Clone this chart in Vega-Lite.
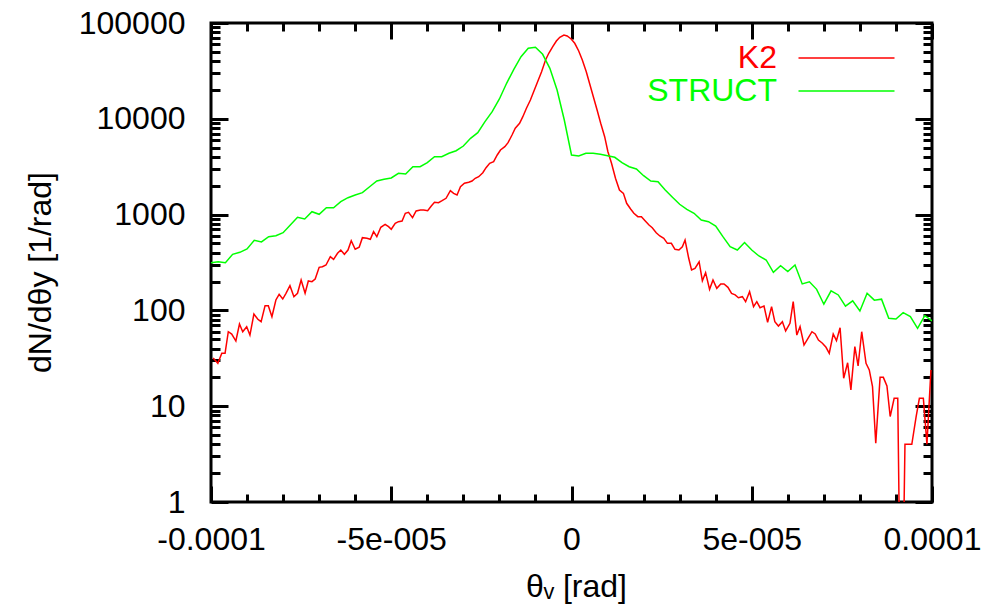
{
  "$schema": "https://vega.github.io/schema/vega-lite/v6.json",
  "width": 721,
  "height": 479,
  "autosize": {"type": "none"},
  "padding": {"left": 211, "top": 23, "right": 74, "bottom": 103},
  "background": "white",
  "view": {"stroke": "#000000", "strokeWidth": 3},
  "config": {
    "view": {"stroke": "#000000", "strokeWidth": 3},
    "font": "Liberation Sans",
    "axis": {"grid": false, "domain": false, "labelColor": "#000000", "tickColor": "#000000", "tickWidth": 3, "tickOpacity": 1, "tickRound": true, "titleColor": "#000000", "titleFontWeight": "normal", "labelFont": "Liberation Sans", "titleFont": "Liberation Sans", "labelFontSize": 32, "titleFontSize": 32, "labelOverlap": false, "labelFlush": false}
  },
  "data": {"values": [
    {"s":"K2","x":-99.4e-6,"y":31.9},{"s":"K2","x":-98.1e-6,"y":28.0},{"s":"K2","x":-97.0e-6,"y":35.7},{"s":"K2","x":-96.1e-6,"y":35.7},
    {"s":"K2","x":-95.2e-6,"y":59.9},{"s":"K2","x":-94.25e-6,"y":56.7},{"s":"K2","x":-93.1e-6,"y":47.9},{"s":"K2","x":-92.1e-6,"y":72.1},
    {"s":"K2","x":-91.2e-6,"y":59.9},{"s":"K2","x":-90.1e-6,"y":67.6},{"s":"K2","x":-89.2e-6,"y":55.3},{"s":"K2","x":-88.1e-6,"y":91.7},
    {"s":"K2","x":-87.0e-6,"y":80.7},{"s":"K2","x":-86.1e-6,"y":76.2},{"s":"K2","x":-85.0e-6,"y":112},{"s":"K2","x":-84.1e-6,"y":112},
    {"s":"K2","x":-83.1e-6,"y":85.9},{"s":"K2","x":-82.0e-6,"y":128.5},{"s":"K2","x":-81.1e-6,"y":147},{"s":"K2","x":-80.1e-6,"y":131.5},
    {"s":"K2","x":-79.2e-6,"y":150.8},{"s":"K2","x":-78.1e-6,"y":181},{"s":"K2","x":-77.0e-6,"y":139},{"s":"K2","x":-76.0e-6,"y":150.8},
    {"s":"K2","x":-75.0e-6,"y":207.6},{"s":"K2","x":-73.9e-6,"y":150.8},{"s":"K2","x":-73.0e-6,"y":202.8},{"s":"K2","x":-72.0e-6,"y":199.5},
    {"s":"K2","x":-71.1e-6,"y":212.8},{"s":"K2","x":-70.0e-6,"y":281.8},{"s":"K2","x":-69.1e-6,"y":285.8},{"s":"K2","x":-68.1e-6,"y":297.8},
    {"s":"K2","x":-66.9e-6,"y":363.7},{"s":"K2","x":-66.0e-6,"y":341.5},{"s":"K2","x":-64.9e-6,"y":394.5},{"s":"K2","x":-64.0e-6,"y":426.9},
    {"s":"K2","x":-63.0e-6,"y":385.2},{"s":"K2","x":-62.0e-6,"y":426.9},{"s":"K2","x":-61.1e-6,"y":534.4},{"s":"K2","x":-60.0e-6,"y":434.5},
    {"s":"K2","x":-58.9e-6,"y":455.8},{"s":"K2","x":-58.0e-6,"y":574},{"s":"K2","x":-56.75e-6,"y":566},{"s":"K2","x":-55.8e-6,"y":552},
    {"s":"K2","x":-54.9e-6,"y":663},{"s":"K2","x":-54.0e-6,"y":588},{"s":"K2","x":-52.9e-6,"y":737},{"s":"K2","x":-51.7e-6,"y":792},
    {"s":"K2","x":-50.75e-6,"y":748},{"s":"K2","x":-50.0e-6,"y":703},{"s":"K2","x":-48.9e-6,"y":811},{"s":"K2","x":-48.0e-6,"y":844},
    {"s":"K2","x":-47.0e-6,"y":858},{"s":"K2","x":-46.1e-6,"y":1032},{"s":"K2","x":-45.2e-6,"y":1057},{"s":"K2","x":-44.1e-6,"y":929},
    {"s":"K2","x":-43.1e-6,"y":1091},{"s":"K2","x":-41.9e-6,"y":1117},{"s":"K2","x":-41.0e-6,"y":1117},{"s":"K2","x":-39.9e-6,"y":1099},
    {"s":"K2","x":-38.9e-6,"y":1230},{"s":"K2","x":-38.0e-6,"y":1343},{"s":"K2","x":-36.9e-6,"y":1331},{"s":"K2","x":-35.9e-6,"y":1397},
    {"s":"K2","x":-34.8e-6,"y":1479},{"s":"K2","x":-33.6e-6,"y":1778},{"s":"K2","x":-32.7e-6,"y":1668},{"s":"K2","x":-31.75e-6,"y":1603},
    {"s":"K2","x":-30.8e-6,"y":1955},{"s":"K2","x":-29.7e-6,"y":2123},{"s":"K2","x":-28.5e-6,"y":2173},{"s":"K2","x":-27.6e-6,"y":2243},
    {"s":"K2","x":-26.7e-6,"y":2393},{"s":"K2","x":-25.75e-6,"y":2488},{"s":"K2","x":-24.6e-6,"y":2737},{"s":"K2","x":-23.7e-6,"y":3088},
    {"s":"K2","x":-22.7e-6,"y":3430},{"s":"K2","x":-21.6e-6,"y":3566},{"s":"K2","x":-20.6e-6,"y":4190},{"s":"K2","x":-19.7e-6,"y":4724},
    {"s":"K2","x":-18.5e-6,"y":5114},{"s":"K2","x":-17.6e-6,"y":5632},{"s":"K2","x":-16.5e-6,"y":6774},{"s":"K2","x":-15.6e-6,"y":7961},
    {"s":"K2","x":-14.4e-6,"y":8977},{"s":"K2","x":-13.5e-6,"y":10520},{"s":"K2","x":-12.5e-6,"y":12880},{"s":"K2","x":-11.4e-6,"y":15710},
    {"s":"K2","x":-10.5e-6,"y":19180},{"s":"K2","x":-9.4e-6,"y":24390},{"s":"K2","x":-8.3e-6,"y":31040},{"s":"K2","x":-7.2e-6,"y":41110},
    {"s":"K2","x":-6.3e-6,"y":48300},{"s":"K2","x":-5.2e-6,"y":56590},{"s":"K2","x":-4.2e-6,"y":64890},{"s":"K2","x":-3.25e-6,"y":70960},
    {"s":"K2","x":-2.1e-6,"y":74990},{"s":"K2","x":-1.2e-6,"y":73140},{"s":"K2","x":-0.1e-6,"y":68060},{"s":"K2","x":0.9e-6,"y":61410},
    {"s":"K2","x":2.0e-6,"y":51030},{"s":"K2","x":3.0e-6,"y":41110},{"s":"K2","x":4.1e-6,"y":31040},{"s":"K2","x":5.0e-6,"y":23480},
    {"s":"K2","x":6.0e-6,"y":17300},{"s":"K2","x":7.1e-6,"y":12360},{"s":"K2","x":8.1e-6,"y":8977},{"s":"K2","x":9.2e-6,"y":6503},
    {"s":"K2","x":10.1e-6,"y":4536},{"s":"K2","x":11.1e-6,"y":3430},{"s":"K2","x":12.2e-6,"y":2393},{"s":"K2","x":13.3e-6,"y":1806},
    {"s":"K2","x":14.4e-6,"y":1668},{"s":"K2","x":15.3e-6,"y":1312},{"s":"K2","x":16.4e-6,"y":1144},{"s":"K2","x":17.3e-6,"y":1032},
    {"s":"K2","x":18.4e-6,"y":951},{"s":"K2","x":19.4e-6,"y":951},{"s":"K2","x":20.4e-6,"y":864},{"s":"K2","x":21.5e-6,"y":779},
    {"s":"K2","x":22.4e-6,"y":730},{"s":"K2","x":23.5e-6,"y":647},{"s":"K2","x":24.5e-6,"y":598},{"s":"K2","x":25.6e-6,"y":566},
    {"s":"K2","x":26.6e-6,"y":501},{"s":"K2","x":27.7e-6,"y":501},{"s":"K2","x":28.7e-6,"y":434.5},{"s":"K2","x":29.8e-6,"y":426.9},
    {"s":"K2","x":30.75e-6,"y":462},{"s":"K2","x":31.5e-6,"y":543},{"s":"K2","x":32.5e-6,"y":352},{"s":"K2","x":33.3e-6,"y":264},
    {"s":"K2","x":34.25e-6,"y":275},{"s":"K2","x":35.4e-6,"y":322},{"s":"K2","x":36.3e-6,"y":204},{"s":"K2","x":37.2e-6,"y":248},
    {"s":"K2","x":38.3e-6,"y":166},{"s":"K2","x":39.25e-6,"y":207.6},{"s":"K2","x":40.3e-6,"y":170},{"s":"K2","x":41.4e-6,"y":189},
    {"s":"K2","x":42.3e-6,"y":189},{"s":"K2","x":43.4e-6,"y":174},{"s":"K2","x":44.4e-6,"y":150.8},{"s":"K2","x":45.4e-6,"y":145},
    {"s":"K2","x":46.3e-6,"y":135.7},{"s":"K2","x":47.4e-6,"y":139},{"s":"K2","x":48.3e-6,"y":123.3},{"s":"K2","x":49.4e-6,"y":156.7},
    {"s":"K2","x":50.5e-6,"y":109.3},{"s":"K2","x":51.4e-6,"y":123.3},{"s":"K2","x":52.3e-6,"y":106.7},{"s":"K2","x":53.4e-6,"y":111.2},
    {"s":"K2","x":54.4e-6,"y":75.1},{"s":"K2","x":55.5e-6,"y":109.3},{"s":"K2","x":56.4e-6,"y":76.2},{"s":"K2","x":57.4e-6,"y":68.7},
    {"s":"K2","x":58.5e-6,"y":76.2},{"s":"K2","x":59.4e-6,"y":61},{"s":"K2","x":60.6e-6,"y":73.3},{"s":"K2","x":61.5e-6,"y":123.3},
    {"s":"K2","x":62.5e-6,"y":55.3},{"s":"K2","x":63.4e-6,"y":67.6},{"s":"K2","x":64.5e-6,"y":43.5},{"s":"K2","x":65.6e-6,"y":51.1},
    {"s":"K2","x":66.7e-6,"y":59.9},{"s":"K2","x":67.6e-6,"y":56.7},{"s":"K2","x":68.5e-6,"y":49.1},{"s":"K2","x":69.6e-6,"y":45.4},
    {"s":"K2","x":70.6e-6,"y":41.2},{"s":"K2","x":71.5e-6,"y":35.7},{"s":"K2","x":72.6e-6,"y":56.7},{"s":"K2","x":73.5e-6,"y":48.3},
    {"s":"K2","x":74.5e-6,"y":66},{"s":"K2","x":75.5e-6,"y":19.6},{"s":"K2","x":76.6e-6,"y":28.4},{"s":"K2","x":77.5e-6,"y":14.8},
    {"s":"K2","x":78.6e-6,"y":41.8},{"s":"K2","x":79.5e-6,"y":26.3},{"s":"K2","x":80.5e-6,"y":59.9},{"s":"K2","x":81.7e-6,"y":28},
    {"s":"K2","x":82.6e-6,"y":23.9},{"s":"K2","x":83.5e-6,"y":16},{"s":"K2","x":84.4e-6,"y":4.1},{"s":"K2","x":85.6e-6,"y":20},
    {"s":"K2","x":86.5e-6,"y":20},{"s":"K2","x":87.5e-6,"y":16.3},{"s":"K2","x":88.4e-6,"y":7.8},{"s":"K2","x":89.5e-6,"y":12.1},
    {"s":"K2","x":90.5e-6,"y":12.1},{"s":"K2","x":91.5e-6,"y":0.01},{"s":"K2","x":92.5e-6,"y":4},{"s":"K2","x":93.5e-6,"y":4},
    {"s":"K2","x":94.4e-6,"y":4},{"s":"K2","x":95.6e-6,"y":7.8},{"s":"K2","x":96.5e-6,"y":12.1},{"s":"K2","x":97.6e-6,"y":12.1},
    {"s":"K2","x":98.6e-6,"y":4},{"s":"K2","x":99.7e-6,"y":23.9},
    {"s":"STRUCT","x":-100e-6,"y":315},{"s":"STRUCT","x":-98e-6,"y":322},{"s":"STRUCT","x":-96e-6,"y":315},{"s":"STRUCT","x":-94e-6,"y":385},
    {"s":"STRUCT","x":-92e-6,"y":404},{"s":"STRUCT","x":-90e-6,"y":438},{"s":"STRUCT","x":-88e-6,"y":539},{"s":"STRUCT","x":-86e-6,"y":518},
    {"s":"STRUCT","x":-84e-6,"y":588},{"s":"STRUCT","x":-82e-6,"y":602},{"s":"STRUCT","x":-80e-6,"y":647},{"s":"STRUCT","x":-78e-6,"y":779},
    {"s":"STRUCT","x":-76e-6,"y":937},{"s":"STRUCT","x":-74e-6,"y":900},{"s":"STRUCT","x":-72e-6,"y":1072},{"s":"STRUCT","x":-70e-6,"y":1007},
    {"s":"STRUCT","x":-68e-6,"y":1180},{"s":"STRUCT","x":-66e-6,"y":1180},{"s":"STRUCT","x":-64e-6,"y":1364},{"s":"STRUCT","x":-62e-6,"y":1501},
    {"s":"STRUCT","x":-60e-6,"y":1603},{"s":"STRUCT","x":-58e-6,"y":1693},{"s":"STRUCT","x":-56e-6,"y":1955},{"s":"STRUCT","x":-54e-6,"y":2243},
    {"s":"STRUCT","x":-52e-6,"y":2335},{"s":"STRUCT","x":-50e-6,"y":2410},{"s":"STRUCT","x":-48e-6,"y":2698},{"s":"STRUCT","x":-46e-6,"y":2654},
    {"s":"STRUCT","x":-44e-6,"y":3162},{"s":"STRUCT","x":-42e-6,"y":3162},{"s":"STRUCT","x":-40e-6,"y":3483},{"s":"STRUCT","x":-38e-6,"y":4020},
    {"s":"STRUCT","x":-36e-6,"y":4020},{"s":"STRUCT","x":-34e-6,"y":4363},{"s":"STRUCT","x":-32e-6,"y":4645},{"s":"STRUCT","x":-30e-6,"y":5200},
    {"s":"STRUCT","x":-28e-6,"y":6255},{"s":"STRUCT","x":-26e-6,"y":7160},{"s":"STRUCT","x":-24e-6,"y":9330},{"s":"STRUCT","x":-22e-6,"y":11860},
    {"s":"STRUCT","x":-20e-6,"y":16100},{"s":"STRUCT","x":-18e-6,"y":23480},{"s":"STRUCT","x":-16e-6,"y":32870},{"s":"STRUCT","x":-14e-6,"y":44470},
    {"s":"STRUCT","x":-12e-6,"y":54430},{"s":"STRUCT","x":-10e-6,"y":55720},{"s":"STRUCT","x":-8e-6,"y":47120},{"s":"STRUCT","x":-6e-6,"y":33650},
    {"s":"STRUCT","x":-4e-6,"y":19990},{"s":"STRUCT","x":-2e-6,"y":9710},{"s":"STRUCT","x":0,"y":4190},{"s":"STRUCT","x":2e-6,"y":4090},
    {"s":"STRUCT","x":4e-6,"y":4363},{"s":"STRUCT","x":6e-6,"y":4363},{"s":"STRUCT","x":8e-6,"y":4259},{"s":"STRUCT","x":10e-6,"y":4120},
    {"s":"STRUCT","x":12e-6,"y":3963},{"s":"STRUCT","x":14e-6,"y":3483},{"s":"STRUCT","x":16e-6,"y":3162},{"s":"STRUCT","x":18e-6,"y":2992},
    {"s":"STRUCT","x":20e-6,"y":2547},{"s":"STRUCT","x":22e-6,"y":2243},{"s":"STRUCT","x":24e-6,"y":2205},{"s":"STRUCT","x":26e-6,"y":1806},
    {"s":"STRUCT","x":28e-6,"y":1517},{"s":"STRUCT","x":30e-6,"y":1282},{"s":"STRUCT","x":32e-6,"y":1136},{"s":"STRUCT","x":34e-6,"y":1032},
    {"s":"STRUCT","x":36e-6,"y":879},{"s":"STRUCT","x":38e-6,"y":844},{"s":"STRUCT","x":40e-6,"y":760},{"s":"STRUCT","x":42e-6,"y":588},
    {"s":"STRUCT","x":44e-6,"y":462},{"s":"STRUCT","x":46e-6,"y":427},{"s":"STRUCT","x":48e-6,"y":511},{"s":"STRUCT","x":50e-6,"y":427},
    {"s":"STRUCT","x":52e-6,"y":370},{"s":"STRUCT","x":54e-6,"y":336},{"s":"STRUCT","x":56e-6,"y":250},{"s":"STRUCT","x":58e-6,"y":293},
    {"s":"STRUCT","x":60e-6,"y":254},{"s":"STRUCT","x":62e-6,"y":298},{"s":"STRUCT","x":64e-6,"y":189},{"s":"STRUCT","x":66e-6,"y":199},
    {"s":"STRUCT","x":68e-6,"y":166},{"s":"STRUCT","x":70e-6,"y":116},{"s":"STRUCT","x":72e-6,"y":160},{"s":"STRUCT","x":74e-6,"y":145},
    {"s":"STRUCT","x":76e-6,"y":111},{"s":"STRUCT","x":78e-6,"y":126},{"s":"STRUCT","x":80e-6,"y":98.6},{"s":"STRUCT","x":82e-6,"y":151},
    {"s":"STRUCT","x":84e-6,"y":128},{"s":"STRUCT","x":86e-6,"y":131},{"s":"STRUCT","x":88e-6,"y":82.7},{"s":"STRUCT","x":90e-6,"y":81.3},
    {"s":"STRUCT","x":92e-6,"y":94.6},{"s":"STRUCT","x":94e-6,"y":86},{"s":"STRUCT","x":96e-6,"y":65},{"s":"STRUCT","x":98e-6,"y":88},
    {"s":"STRUCT","x":100e-6,"y":77.5}
  ]},
  "resolve": {"axis": {"x": "independent", "y": "independent"}},
  "layer": [
    {
      "mark": {"type": "line", "strokeWidth": 1.5, "clip": true},
      "encoding": {
        "x": {"field": "x", "type": "quantitative",
              "scale": {"domain": [-0.0001, 0.0001], "nice": false, "zero": false},
              "axis": {"orient": "bottom", "values": [-0.0001, -0.00005, 0, 0.00005, 0.0001], "ticks": false, "tickSize": 0, "labelPadding": 22,
                       "labelExpr": "datum.value < -0.00009 ? '-0.0001' : datum.value < -0.00004 ? '-5e-005' : datum.value < 0.00001 ? '0' : datum.value < 0.00009 ? '5e-005' : '0.0001'",
                       "title": "θᵥ [rad]", "titleBaseline": "alphabetic", "titleY": 94, "titleX": 365}},
        "y": {"field": "y", "type": "quantitative",
              "scale": {"type": "log", "domain": [1, 100000], "nice": false},
              "axis": {"orient": "left", "values": [1, 10, 100, 1000, 10000, 100000], "format": "d", "ticks": false, "tickSize": 0, "labelPadding": 26,
                       "title": "dN/dθy [1/rad]", "titleAngle": -90, "titleBaseline": "alphabetic", "titleAlign": "center", "titleX": -161, "titleY": 249}},
        "color": {"field": "s", "type": "nominal",
                  "scale": {"domain": ["K2", "STRUCT"], "range": ["#ff0000", "#00ff00"]},
                  "legend": {"orient": "none", "legendX": 619.5, "legendY": 19, "title": null, "symbolType": "M-16,0H16", "symbolSize": 36, "symbolStrokeWidth": 1.5,
                             "labelFontSize": 32, "labelFont": "Liberation Sans", "labelAlign": "right", "labelOffset": -85.5, "padding": 0, "rowPadding": 1,
                             "encode": {"labels": {"update": {"fill": {"signal": "datum.value === 'K2' ? '#ff0000' : '#00ff00'"}}}}}}
      }
    },
    {
      "mark": {"type": "point", "opacity": 0},
      "encoding": {
        "x": {"field": "x", "type": "quantitative", "scale": {"domain": [-0.0001, 0.0001], "nice": false, "zero": false},
              "axis": {"orient": "bottom", "values": [-0.0001, -0.00005, 0, 0.00005, 0.0001], "labels": false, "tickSize": -16, "tickWidth": 3, "tickColor": "#000000", "title": null}},
        "y": {"field": "y", "type": "quantitative", "scale": {"type": "log", "domain": [1, 100000], "nice": false},
              "axis": {"orient": "left", "values": [1, 10, 100, 1000, 10000, 100000], "labels": false, "tickSize": -17, "tickWidth": 3, "tickColor": "#000000", "title": null}}
      }
    },
    {
      "mark": {"type": "point", "opacity": 0},
      "encoding": {
        "x": {"field": "x", "type": "quantitative", "scale": {"domain": [-0.0001, 0.0001], "nice": false, "zero": false},
              "axis": {"orient": "bottom", "values": [-0.00009, -0.00008, -0.00007, -0.00006, -0.00004, -0.00003, -0.00002, -0.00001, 0.00001, 0.00002, 0.00003, 0.00004, 0.00006, 0.00007, 0.00008, 0.00009], "labels": false, "tickSize": -8, "tickWidth": 3, "tickColor": "#000000", "title": null}},
        "y": {"field": "y", "type": "quantitative", "scale": {"type": "log", "domain": [1, 100000], "nice": false},
              "axis": {"orient": "left", "values": [2,3,4,5,6,7,8,9,20,30,40,50,60,70,80,90,200,300,400,500,600,700,800,900,2000,3000,4000,5000,6000,7000,8000,9000,20000,30000,40000,50000,60000,70000,80000,90000], "labels": false, "tickSize": -9, "tickWidth": 3, "tickColor": "#000000", "title": null}}
      }
    },
    {
      "mark": {"type": "point", "opacity": 0},
      "encoding": {
        "x": {"field": "x", "type": "quantitative", "scale": {"domain": [-0.0001, 0.0001], "nice": false, "zero": false},
              "axis": {"orient": "top", "values": [-0.0001, -0.00005, 0, 0.00005, 0.0001], "labels": false, "tickSize": -16, "tickWidth": 3, "tickColor": "#000000", "title": null}},
        "y": {"field": "y", "type": "quantitative", "scale": {"type": "log", "domain": [1, 100000], "nice": false},
              "axis": {"orient": "right", "values": [1, 10, 100, 1000, 10000, 100000], "labels": false, "tickSize": -17, "tickWidth": 3, "tickColor": "#000000", "title": null}}
      }
    },
    {
      "mark": {"type": "point", "opacity": 0},
      "encoding": {
        "x": {"field": "x", "type": "quantitative", "scale": {"domain": [-0.0001, 0.0001], "nice": false, "zero": false},
              "axis": {"orient": "top", "values": [-0.00009, -0.00008, -0.00007, -0.00006, -0.00004, -0.00003, -0.00002, -0.00001, 0.00001, 0.00002, 0.00003, 0.00004, 0.00006, 0.00007, 0.00008, 0.00009], "labels": false, "tickSize": -8, "tickWidth": 3, "tickColor": "#000000", "title": null}},
        "y": {"field": "y", "type": "quantitative", "scale": {"type": "log", "domain": [1, 100000], "nice": false},
              "axis": {"orient": "right", "values": [2,3,4,5,6,7,8,9,20,30,40,50,60,70,80,90,200,300,400,500,600,700,800,900,2000,3000,4000,5000,6000,7000,8000,9000,20000,30000,40000,50000,60000,70000,80000,90000], "labels": false, "tickSize": -9, "tickWidth": 3, "tickColor": "#000000", "title": null}}
      }
    }
  ]
}
